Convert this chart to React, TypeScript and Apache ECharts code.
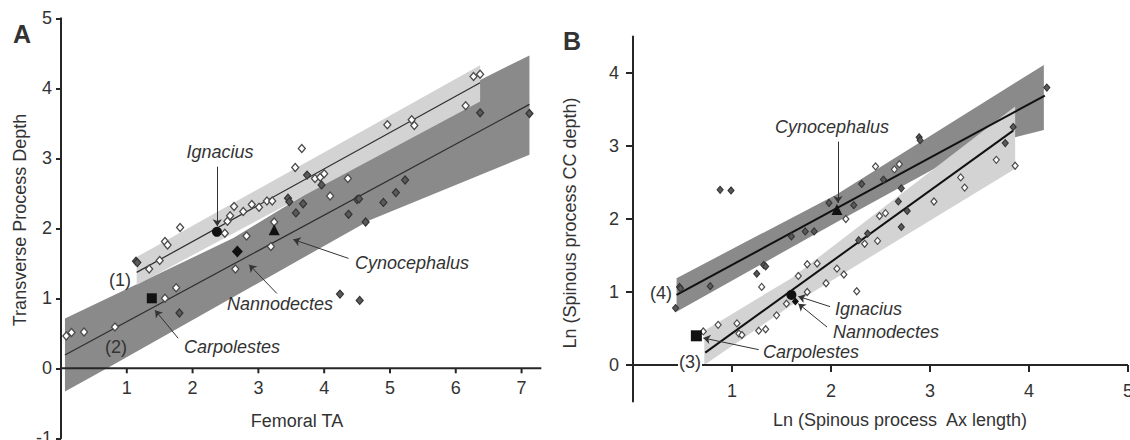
import React, { useEffect, useRef } from "react";
import * as echarts from "echarts";

const FONT = "'Liberation Sans', Arial, Helvetica, sans-serif";
const TXT = "#333333";
const AXIS = "#262626";

// ---------- Panel A: Transverse Process Depth vs Femoral TA ----------
const aXRange = [0, 7.3];
const aYRange = [-1, 5];
const aXTicks = [1, 2, 3, 4, 5, 6, 7];
const aYTicks = [-1, 0, 1, 2, 3, 4, 5];

const aOpen: number[][] = [
  [0.08, 0.46], [0.16, 0.51], [0.35, 0.52], [0.82, 0.59],
  [1.34, 1.42], [1.5, 1.54], [1.58, 1.81], [1.62, 1.76], [1.81, 2.01],
  [1.58, 1.0], [1.75, 1.15],
  [2.49, 1.93], [2.53, 2.1], [2.57, 2.18], [2.63, 2.31], [2.65, 1.42],
  [2.77, 2.24], [2.82, 1.89], [2.9, 2.34], [3.01, 2.3], [3.13, 2.39],
  [3.21, 2.39], [3.19, 1.74], [3.24, 2.09],
  [3.56, 2.87], [3.66, 3.14], [3.86, 2.71], [3.94, 2.73], [4.0, 2.78],
  [4.09, 2.46], [4.36, 2.71], [4.96, 3.48], [5.33, 3.55], [5.37, 3.47],
  [6.15, 3.75], [6.27, 4.17], [6.37, 4.2],
];
const aDark: number[][] = [
  [1.14, 1.53], [1.16, 1.51], [1.8, 0.79], [3.45, 2.43], [3.47, 2.38],
  [3.57, 2.22], [3.68, 2.35], [3.74, 2.76], [3.96, 2.62], [4.37, 2.2],
  [4.5, 2.41], [4.53, 2.42], [4.63, 2.09], [4.9, 2.37], [5.09, 2.51],
  [5.23, 2.69], [4.24, 1.06], [4.54, 0.97], [6.37, 3.65], [7.12, 3.64],
];
const aCarpolestes = [[1.38, 1.0]];
const aIgnacius = [[2.37, 1.95]];
const aNannodectes = [[2.68, 1.67]];
const aCynocephalus = [[3.24, 1.98]];

const aLine1 = [[1.15, 1.37], [6.37, 4.08]];
const aLine2 = [[0.06, 0.19], [7.12, 3.77]];
const aBand1 = [[1.15, 1.59], [6.37, 4.33], [6.37, 3.81], [1.15, 1.19]];
const aBand2 = [
  [0.06, 0.71], [2.62, 1.86], [5.0, 3.22], [6.37, 4.12], [7.12, 4.47],
  [7.12, 3.05], [4.7, 2.12], [0.7, 0.0], [0.06, -0.33],
];
const aArrows = [
  [[2.375, 2.88], [2.375, 2.03]],
  [[1.78, 0.43], [1.43, 0.83]],
  [[3.28, 1.07], [2.86, 1.48]],
  [[4.37, 1.57], [3.53, 1.84]],
];

// ---------- Panel B: Ln (Spinous process CC depth) vs Ln (Spinous process Ax length) ----------
const bXRange = [0, 5.0];
const bYRange = [-0.5, 4.5];
const bXTicks = [1, 2, 3, 4, 5];
const bYTicks = [0, 1, 2, 3, 4];

const bOpen: number[][] = [
  [0.71, 0.46], [0.86, 0.55], [1.05, 0.57], [1.07, 0.43], [1.1, 0.41],
  [1.27, 0.47], [1.34, 0.49], [1.45, 0.68], [1.55, 0.84], [1.3, 1.07],
  [1.67, 1.22], [1.76, 1.38], [1.86, 1.39], [1.76, 1.0], [1.95, 1.12],
  [2.06, 1.32], [2.13, 1.24], [2.26, 1.01], [2.34, 1.66], [2.47, 1.7],
  [2.15, 2.0], [2.45, 2.72], [2.64, 2.68], [2.69, 2.75], [2.49, 2.04],
  [2.55, 2.08], [3.04, 2.24], [3.31, 2.57], [3.35, 2.43], [3.67, 2.81],
  [3.86, 2.73],
];
const bDark: number[][] = [
  [0.43, 0.78], [0.47, 1.07], [0.48, 1.05], [0.78, 1.08], [0.88, 2.4],
  [0.99, 2.39], [1.25, 1.25], [1.32, 1.37], [1.34, 1.35], [1.6, 1.76],
  [1.74, 1.83], [1.83, 1.83], [1.98, 2.22], [2.23, 2.19], [2.28, 1.71],
  [2.37, 1.8], [2.31, 2.48], [2.53, 2.54], [2.71, 2.42], [2.68, 2.24],
  [2.77, 2.11], [2.71, 1.89], [2.89, 3.12], [2.9, 3.08], [3.76, 3.04],
  [3.84, 3.26], [4.18, 3.8],
];
const bCarpolestes = [[0.64, 0.4]];
const bIgnacius = [[1.6, 0.96]];
const bNannodectes = [[1.64, 0.87]];
const bCynocephalus = [[2.06, 2.13]];

const bLine4 = [[0.44, 0.96], [4.16, 3.69]];
const bLine3 = [[0.73, 0.17], [3.84, 3.21]];
const bBand4 = [
  [0.44, 1.19], [2.06, 2.34], [4.15, 4.11],
  [4.15, 3.22], [3.86, 3.12], [3.3, 2.88], [2.06, 1.96], [0.44, 0.73],
];
const bBand3 = [
  [0.72, 0.47], [1.6, 1.19], [3.86, 3.54],
  [3.86, 2.69], [1.6, 0.82], [0.72, 0.0],
];
const bArrows = [
  [[2.07, 3.06], [2.07, 2.22]],
  [[1.99, 0.8], [1.67, 0.94]],
  [[1.96, 0.52], [1.67, 0.84]],
  [[1.27, 0.21], [0.71, 0.37]],
];

// grid boxes (layout)
const GRID_A = { left: 61, top: 18.3, width: 480.3, height: 420 };
const GRID_B = { left: 633, top: 36.5, width: 495, height: 365 };

// offset (negative = upward) that puts a bottom x-axis on the y = 0 line
const zeroOffset = (h: number, yr: number[]) => -h * (0 - yr[0]) / (yr[1] - yr[0]);

function band(poly: number[][], color: string, idx: number, z: number) {
  return {
    type: "custom",
    xAxisIndex: idx,
    yAxisIndex: idx,
    z,
    silent: true,
    clip: false,
    data: [poly[0]],
    renderItem: (_p: any, api: any) => ({
      type: "polygon",
      shape: { points: poly.map((p) => api.coord(p)) },
      style: { fill: color },
    }),
  };
}

// x-axis baseline along y = 0 with downward ticks, through the axis scales
function zeroAxis(range: number[], ticks: number[], idx: number, tickLen: number) {
  return {
    type: "custom",
    xAxisIndex: idx,
    yAxisIndex: idx,
    z: 7,
    silent: true,
    clip: false,
    data: [[range[0], 0]],
    renderItem: (_p: any, api: any) => {
      const a = api.coord([range[0], 0]);
      const b = api.coord([range[1], 0]);
      const children: any[] = [
        { type: "line", shape: { x1: a[0] - 1, y1: a[1], x2: b[0], y2: b[1] }, style: { stroke: AXIS, lineWidth: 2 } },
      ];
      ticks.forEach((t) => {
        const p = api.coord([t, 0]);
        children.push({
          type: "line",
          shape: { x1: p[0], y1: p[1], x2: p[0], y2: p[1] + tickLen },
          style: { stroke: AXIS, lineWidth: 2 },
        });
      });
      return { type: "group", children };
    },
  };
}

function regLine(pts: number[][], idx: number, width: number, color: string) {
  return {
    type: "line",
    xAxisIndex: idx,
    yAxisIndex: idx,
    z: 3,
    silent: true,
    symbol: "none",
    data: pts,
    lineStyle: { color, width },
  };
}

function pts(
  data: number[][],
  idx: number,
  symbol: string,
  size: any,
  fill: string,
  border: string,
  bw: number,
  z: number
) {
  return {
    type: "scatter",
    xAxisIndex: idx,
    yAxisIndex: idx,
    z,
    silent: true,
    symbol,
    symbolSize: size,
    data,
    itemStyle: { color: fill, borderColor: border, borderWidth: bw, opacity: 1 },
  };
}

function arrows(list: number[][][], idx: number) {
  return {
    type: "lines",
    coordinateSystem: "cartesian2d",
    xAxisIndex: idx,
    yAxisIndex: idx,
    z: 6,
    silent: true,
    symbol: ["none", "arrow"],
    symbolSize: 7,
    lineStyle: { color: "#333", width: 1, opacity: 1, curveness: 0 },
    data: list.map((c) => ({ coords: c })),
  };
}

function txt(text: string, x: number, y: number, size: number, opts: any = {}) {
  return {
    type: "text",
    x,
    y,
    rotation: opts.rotation || 0,
    z: 100,
    silent: true,
    style: {
      text,
      fill: TXT,
      font: `${opts.italic ? "italic " : ""}${opts.bold ? "bold " : ""}${size}px ${FONT}`,
      align: opts.align || "center",
      verticalAlign: "middle",
      textAlign: opts.align || "center",
      textVerticalAlign: "middle",
      backgroundColor: opts.bg,
      padding: opts.bg ? [0, 1] : 0,
    },
  };
}

const axisCommon = (tickLen: number, margin: number, ticks: number[], showLine: boolean) => ({
  type: "value",
  axisLine: { show: showLine, onZero: false, lineStyle: { color: AXIS, width: 2 } },
  axisTick: { show: showLine, length: tickLen, inside: false, customValues: ticks, lineStyle: { color: AXIS, width: 2 } },
  axisLabel: { show: true, customValues: ticks, margin, color: TXT, fontSize: 18, fontFamily: FONT },
  splitLine: { show: false },
});

export default function App() {
  const ref = useRef<HTMLDivElement>(null);
  useEffect(() => {
    document.body.style.margin = "0";
    if (!ref.current) return;
    const chart = echarts.init(ref.current, undefined, { renderer: "svg" });
    const option: any = {
      animation: false,
      backgroundColor: "#ffffff",
      grid: [
        { ...GRID_A, outerBoundsMode: "none", containLabel: false },
        { ...GRID_B, outerBoundsMode: "none", containLabel: false },
      ],
      xAxis: [
        {
          ...axisCommon(5, 11, aXTicks, false), gridIndex: 0, position: "bottom",
          min: aXRange[0], max: aXRange[1], offset: zeroOffset(GRID_A.height, aYRange),
        },
        {
          ...axisCommon(7, 17, bXTicks, false), gridIndex: 1, position: "bottom",
          min: bXRange[0], max: bXRange[1], offset: zeroOffset(GRID_B.height, bYRange),
        },
      ],
      yAxis: [
        { ...axisCommon(5, 9, aYTicks, true), gridIndex: 0, position: "left", min: aYRange[0], max: aYRange[1] },
        { ...axisCommon(7, 14, bYTicks, true), gridIndex: 1, position: "left", min: bYRange[0], max: bYRange[1] },
      ],
      series: [
        band(aBand2, "#8a8a8a", 0, 1),
        band(aBand1, "#d3d3d3", 0, 2),
        regLine(aLine1, 0, 1.2, "#2e2e2e"),
        regLine(aLine2, 0, 1.2, "#2e2e2e"),
        pts(aOpen, 0, "diamond", [7, 8], "#ffffff", "#4a4a4a", 1.3, 4),
        pts(aDark, 0, "diamond", [7, 8], "#5a5a5a", "#333333", 1.2, 4),
        pts(aCarpolestes, 0, "rect", 10, "#111", "#111", 0, 5),
        pts(aIgnacius, 0, "circle", 10, "#111", "#111", 0, 5),
        pts(aNannodectes, 0, "diamond", [11, 12], "#111", "#111", 0, 5),
        pts(aCynocephalus, 0, "triangle", [11, 11], "#111", "#111", 0, 5),
        arrows(aArrows, 0),
        zeroAxis(aXRange, aXTicks, 0, 5),

        band(bBand4, "#8a8a8a", 1, 1),
        band(bBand3, "#d3d3d3", 1, 2),
        regLine(bLine4, 1, 2, "#111111"),
        regLine(bLine3, 1, 2, "#111111"),
        pts(bOpen, 1, "diamond", [6, 7], "#ffffff", "#4a4a4a", 1.2, 4),
        pts(bDark, 1, "diamond", [6, 7], "#5a5a5a", "#333333", 1.1, 4),
        pts(bCarpolestes, 1, "rect", 11, "#111", "#111", 0, 5),
        pts(bIgnacius, 1, "circle", 10, "#111", "#111", 0, 5),
        pts(bNannodectes, 1, "diamond", [7, 8], "#111", "#111", 0, 5),
        pts(bCynocephalus, 1, "triangle", [11, 11], "#111", "#111", 0, 5),
        arrows(bArrows, 1),
        zeroAxis(bXRange, bXTicks, 1, 7),
      ],
      graphic: [
        txt("A", 22, 34, 25, { bold: true }),
        txt("B", 572, 41, 25, { bold: true }),
        txt("Transverse Process Depth", 20, 220, 18, { rotation: Math.PI / 2 }),
        txt("Femoral TA", 297, 421, 18),
        txt("Ln (Spinous process CC depth)", 570, 223, 18, { rotation: Math.PI / 2 }),
        txt("Ln (Spinous process  Ax length)", 900, 420, 18),
        txt("Ignacius", 220, 152, 18, { italic: true }),
        txt("Cynocephalus", 412, 263, 18, { italic: true }),
        txt("Nannodectes", 280, 304, 18, { italic: true }),
        txt("Carpolestes", 232, 347, 18, { italic: true }),
        txt("(1)", 120, 280, 18),
        txt("(2)", 116, 347, 18),
        txt("Cynocephalus", 832, 127, 18, { italic: true }),
        txt("Ignacius", 835, 309, 18, { italic: true, align: "left" }),
        txt("Nannodectes", 833, 332, 18, { italic: true, align: "left" }),
        txt("Carpolestes", 811, 352, 18, { italic: true }),
        txt("(4)", 661, 293, 18),
        txt("(3)", 690, 362, 18, { bg: "#ffffff" }),
      ],
    };
    chart.setOption(option);
    return () => chart.dispose();
  }, []);
  return <div ref={ref} style={{ width: 1130, height: 440 }} />;
}
